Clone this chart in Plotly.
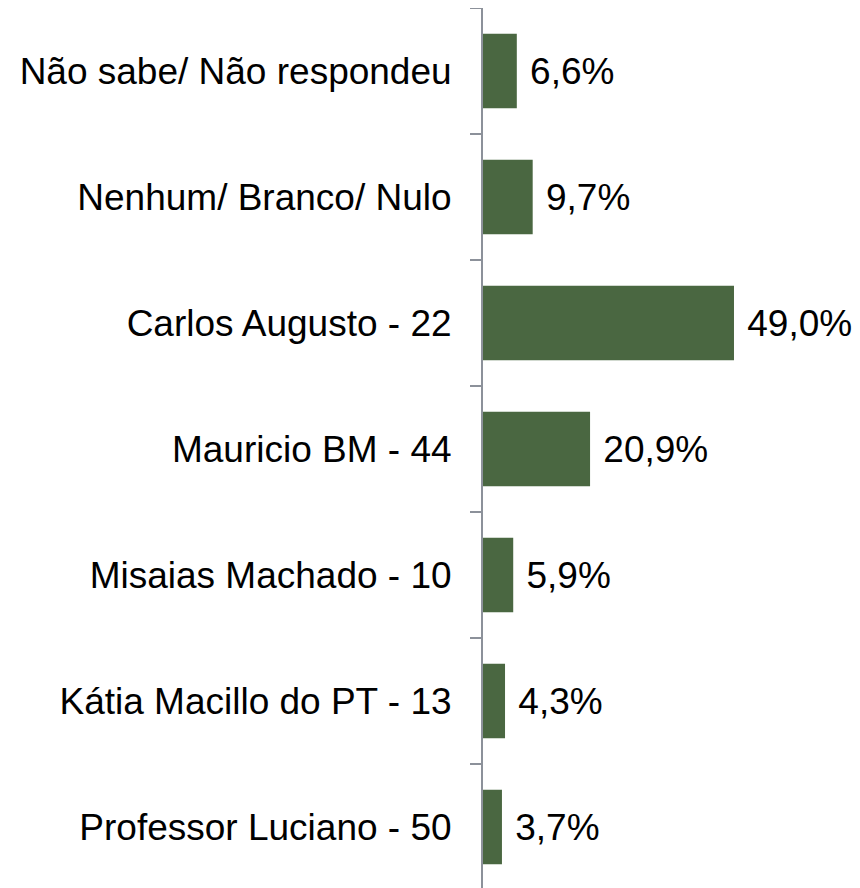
import plotly.graph_objects as go

categories = [
    "Não sabe/ Não respondeu",
    "Nenhum/ Branco/ Nulo",
    "Carlos Augusto - 22",
    "Mauricio BM - 44",
    "Misaias Machado - 10",
    "Kátia Macillo do PT - 13",
    "Professor Luciano - 50",
]
values = [6.6, 9.7, 49.0, 20.9, 5.9, 4.3, 3.7]
value_labels = ["6,6%", "9,7%", "49,0%", "20,9%", "5,9%", "4,3%", "3,7%"]

font_family = "Arial, Liberation Sans, sans-serif"

fig = go.Figure(
    go.Bar(
        x=values,
        y=categories,
        orientation="h",
        marker=dict(color="#4A6741", line=dict(width=0)),
        text=[" " + t for t in value_labels],
        textposition="outside",
        textfont=dict(family=font_family, size=37, color="#000000"),
        cliponaxis=False,
        hoverinfo="skip",
    )
)

# The page body adds an 8px offset, so the figure is sized to fill the rest.
fig.update_layout(
    width=852,
    height=882,
    margin=dict(l=475, r=0, t=0, b=0),
    paper_bgcolor="white",
    plot_bgcolor="white",
    bargap=0.41,
    showlegend=False,
    font=dict(family=font_family, size=37, color="#000000"),
)

fig.update_xaxes(
    range=[0, 73.6],
    showgrid=False,
    zeroline=False,
    showticklabels=False,
    showline=False,
    ticks="",
    automargin=False,
)

fig.update_yaxes(
    categoryorder="array",
    categoryarray=categories,
    autorange="reversed",
    showgrid=False,
    zeroline=False,
    showline=True,
    linecolor="#8C919A",
    linewidth=2,
    ticks="outside",
    tickson="boundaries",
    ticklen=11,
    tickwidth=2,
    tickcolor="#8C919A",
    ticklabelstandoff=22,
    tickfont=dict(family=font_family, size=37, color="#000000"),
    automargin=False,
)

fig.write_html("out.html")
